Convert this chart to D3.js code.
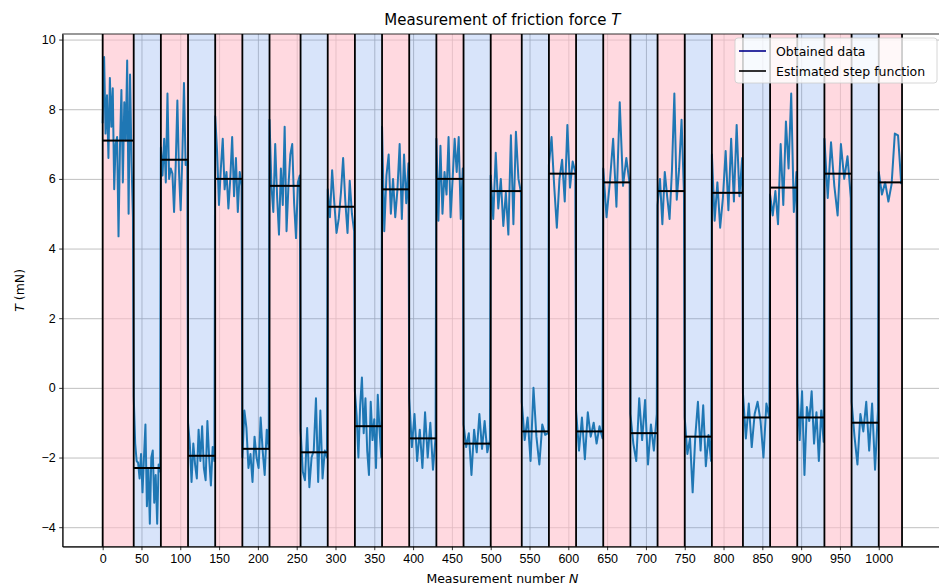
<!DOCTYPE html>
<html>
<head>
<meta charset="utf-8">
<script src="https://cdn.jsdelivr.net/npm/d3@7"></script>
<style>
  body { margin: 0; background: #fff; }
  svg { display: block; font-family: "DejaVu Sans", sans-serif; }
  .grid line { stroke: #b0b0b0; stroke-width: 0.8; }
  .grid path { display: none; }
  .axis text { font-size: 12.5px; fill: #000; }
  .axis path, .axis line { stroke: #000; stroke-width: 0.8; }
</style>
</head>
<body>
<script>
// segment boundaries (measurement number N)
var bounds = [0, 40, 75, 110, 145, 180, 215, 255, 290, 325, 360, 395, 430, 465, 500,
    540, 575, 610, 645, 680, 715, 750, 785, 825, 860, 895, 930, 965, 1000, 1030];

// estimated step levels, one per segment
var levels = [7.1, -2.3, 6.55, -1.95, 6.0, -1.75, 5.8, -1.85, 5.2, -1.1, 5.7, -1.45, 6.0, -1.6,
    5.65, -1.25, 6.15, -1.25, 5.9, -1.3, 5.65, -1.4, 5.6, -0.85, 5.75, -0.85, 6.15, -1.0, 5.9];

// obtained data, one list per segment
var samples = [
    [7.6, 9.5, 7.3, 8.4, 6.6, 8.9, 7.5, 8.6, 5.7, 7.0, 7.2, 4.35, 6.9, 8.55, 5.9, 8.2, 7.1, 9.4, 5.0, 9.0, 6.5, 4.9],
    [-0.25, -1.6, -2.1, -2.15, -2.6, -1.9, -3.0, -2.0, -1.05, -3.4, -2.3, -3.9, -2.0, -1.8, -3.3, -2.5, -3.9, -2.2, -2.4],
    [6.9, 6.1, 7.15, 5.9, 8.45, 6.0, 6.3, 6.15, 5.05, 6.4, 8.25, 6.2, 5.1, 6.6, 8.75, 6.4, 6.5],
    [-1.0, -1.6, -2.7, -1.6, -2.2, -2.6, -1.2, -2.1, -1.1, -2.3, -2.65, -0.95, -2.0, -2.8, -1.7, -2.1],
    [7.8, 6.8, 5.25, 6.3, 7.15, 5.7, 6.2, 5.15, 6.0, 7.2, 5.5, 6.6, 5.05, 6.2, 5.8],
    [-2.0, -0.65, -1.15, -2.3, -1.9, -2.7, -1.4, -2.0, -2.3, -0.85, -1.8, -2.5, -1.2, -1.75],
    [7.7, 5.8, 5.05, 7.0, 5.5, 4.4, 6.3, 5.25, 7.5, 4.5, 5.8, 6.7, 7.0, 5.3, 4.3, 5.9, 6.1],
    [-1.2, -2.4, -2.65, -1.15, -2.85, -2.0, -1.8, -0.3, -2.7, -0.65, -2.6, -1.8, -2.0],
    [5.7, 4.9, 6.25, 5.3, 4.45, 4.85, 5.6, 6.6, 5.35, 4.45, 5.95, 5.0, 4.5],
    [-0.1, -0.8, -2.0, -0.5, 0.3, -1.3, -0.3, -1.8, -2.5, -0.4, -1.5, -0.9, -2.3, -0.2, -1.2, -2.0],
    [7.5, 4.5, 6.1, 6.7, 5.0, 6.0, 4.9, 5.7, 7.0, 4.85, 6.7, 5.3, 6.45],
    [-0.3, -1.7, -0.75, -2.1, -1.2, -2.3, -0.7, -2.0, -1.0, -2.35, -1.4],
    [7.15, 4.8, 6.95, 5.0, 6.2, 5.55, 7.2, 4.9, 6.0, 7.15, 6.2, 7.2, 4.85, 6.3],
    [-1.05, -1.7, -1.3, -2.5, -1.2, -1.85, -0.75, -1.75, -0.95, -1.85, -1.5],
    [6.1, 4.85, 6.75, 5.15, 6.0, 4.65, 5.6, 4.4, 7.25, 4.7, 7.35, 6.0, 5.6],
    [-0.4, -1.5, -0.85, -2.1, 0.0, -1.4, -2.2, -1.05, -1.35, -1.3],
    [6.4, 7.2, 5.8, 4.6, 6.0, 6.55, 5.35, 7.55, 5.75, 6.5, 6.2],
    [-0.65, -1.8, -0.85, -2.05, -0.7, -1.4, -1.0, -1.6, -1.1, -1.45],
    [6.3, 4.9, 5.9, 7.15, 5.2, 8.2, 5.8, 6.6, 5.85],
    [-0.75, -1.6, -2.1, -0.3, -1.5, -0.35, -2.2, -1.05, -1.8, -0.75],
    [5.25, 6.0, 4.7, 6.2, 5.5, 4.85, 6.25, 8.45, 5.4, 6.3, 7.7, 5.6],
    [-0.85, -1.9, -1.45, -3.0, -1.4, -0.4, -1.8, -0.5, -2.25, -1.35, -2.1],
    [6.7, 4.8, 5.9, 4.6, 5.45, 6.8, 5.1, 7.15, 5.35, 7.55, 5.5, 6.6],
    [-0.15, -1.45, -0.45, -1.7, -0.75, -0.4, -0.95, -2.0, -0.45, -0.85],
    [5.55, 4.95, 5.65, 4.7, 7.0, 5.25, 7.65, 6.3, 8.45, 5.05, 6.2],
    [0.1, -1.5, -0.1, -2.5, -0.55, -0.95, -0.1, -1.6, -0.7, -2.1, -0.65, -1.55],
    [7.15, 5.45, 7.05, 5.8, 4.95, 7.0, 6.0, 6.65, 5.45],
    [-0.4, -1.4, -2.2, -0.75, -1.25, -0.4, -1.8, -0.45, -2.35, -0.65],
    [6.2, 5.55, 5.9, 5.35, 5.85, 7.3, 7.25, 5.85]
];

var xTicks = d3.range(0, 1001, 50);
var yTicks = [-4, -2, 0, 2, 4, 6, 8, 10];
var legendLabels = ["Obtained data", "Estimated step function"];

var width = 939;
var height = 586;
var margin = { top: 34, bottom: 39.3, left: 62.7, right: -3 };
var innerW = width - margin.left - margin.right;
var innerH = height - margin.top - margin.bottom;

var svg = d3.select('body')
    .append("svg")
    .attr("width", width)
    .attr("height", height);

var chart = svg.append("g")
    .attr("transform", "translate(" + margin.left + "," + margin.top + ")");

var xScale = d3.scaleLinear().domain([-51.5, 1081.5]).range([0, innerW]);
var yScale = d3.scaleLinear().domain([-4.56, 10.16]).range([innerH, 0]);

// gridlines
chart.append("g")
    .attr("class", "grid")
    .attr("transform", "translate(0," + innerH + ")")
    .call(d3.axisBottom(xScale).tickValues(xTicks).tickSize(-innerH).tickFormat(""));
chart.append("g")
    .attr("class", "grid")
    .call(d3.axisLeft(yScale).tickValues(yTicks).tickSize(-innerW).tickFormat(""));

// coloured spans
var segs = levels.map(function (v, i) {
    return { x0: bounds[i], x1: bounds[i + 1], level: v, vals: samples[i], i: i };
});

chart.selectAll("rect.span")
    .data(segs)
    .enter()
    .append("rect")
    .attr("class", "span")
    .attr("x", d => xScale(d.x0))
    .attr("width", d => xScale(d.x1) - xScale(d.x0))
    .attr("y", 0)
    .attr("height", innerH)
    .attr("fill", d => d.i % 2 == 0 ? "#ffc0cb" : "#6495ed")
    .attr("fill-opacity", d => d.i % 2 == 0 ? 0.6 : 0.25);

// obtained data as one continuous line
var points = [];
segs.forEach(function (s) {
    var n = s.vals.length;
    var step = (s.x1 - 1 - s.x0) / (n - 1);
    s.vals.forEach(function (v, k) {
        points.push([s.x0 + k * step, v]);
    });
});

var line = d3.line()
    .x(d => xScale(d[0]))
    .y(d => yScale(d[1]));

chart.append("path")
    .datum(points)
    .attr("fill", "none")
    .attr("stroke", "#1f77b4")
    .attr("stroke-width", 2)
    .attr("stroke-linejoin", "round")
    .attr("d", line);

// boundaries
chart.selectAll("line.bound")
    .data(bounds)
    .enter()
    .append("line")
    .attr("x1", d => xScale(d))
    .attr("x2", d => xScale(d))
    .attr("y1", 0)
    .attr("y2", innerH)
    .attr("stroke", "#000")
    .attr("stroke-width", 1.8);

// step function levels
chart.selectAll("line.level")
    .data(segs)
    .enter()
    .append("line")
    .attr("x1", d => xScale(d.x0))
    .attr("x2", d => xScale(d.x1))
    .attr("y1", d => yScale(d.level))
    .attr("y2", d => yScale(d.level))
    .attr("stroke", "#000")
    .attr("stroke-width", 2);

// axes
chart.append("g")
    .attr("class", "axis")
    .attr("transform", "translate(0," + innerH + ")")
    .call(d3.axisBottom(xScale).tickValues(xTicks).tickSize(3.5).tickPadding(3.5).tickSizeOuter(0)
        .tickFormat(d3.format("d")));
chart.append("g")
    .attr("class", "axis")
    .call(d3.axisLeft(yScale).tickValues(yTicks).tickSize(3.5).tickPadding(3.5).tickSizeOuter(0)
        .tickFormat(d => d < 0 ? "\u2212" + Math.abs(d) : d));

// frame
chart.append("rect")
    .attr("width", innerW)
    .attr("height", innerH)
    .attr("fill", "none")
    .attr("stroke", "#000")
    .attr("stroke-width", 0.8);

// title and labels
var title = svg.append("text")
    .attr("x", margin.left + innerW / 2)
    .attr("y", 25)
    .attr("text-anchor", "middle")
    .style("font-size", "15px");
title.append("tspan").text("Measurement of friction force ");
title.append("tspan").style("font-style", "italic").text("T");

var xl = svg.append("text")
    .attr("x", margin.left + innerW / 2)
    .attr("y", 583)
    .attr("text-anchor", "middle")
    .style("font-size", "12.5px");
xl.append("tspan").text("Measurement number ");
xl.append("tspan").style("font-style", "italic").text("N");

var yl = svg.append("text")
    .attr("transform", "translate(24," + (margin.top + innerH / 2) + ") rotate(-90)")
    .attr("text-anchor", "middle")
    .style("font-size", "12.5px");
yl.append("tspan").style("font-style", "italic").text("T");
yl.append("tspan").text(" (mN)");

// legend
var legend = svg.append("g").attr("transform", "translate(735,38)");
legend.append("rect")
    .attr("width", 202)
    .attr("height", 45)
    .attr("rx", 3)
    .attr("fill", "#fff")
    .attr("fill-opacity", 0.8)
    .attr("stroke", "#ccc")
    .attr("stroke-width", 0.8);
var legColors = ["#00008b", "#000"];
legendLabels.forEach(function (lab, i) {
    var yy = 13 + i * 20;
    legend.append("line")
        .attr("x1", 4).attr("x2", 31)
        .attr("y1", yy).attr("y2", yy)
        .attr("stroke", legColors[i])
        .attr("stroke-width", 1.6);
    legend.append("text")
        .attr("x", 41).attr("y", yy + 4.5)
        .style("font-size", "12.5px")
        .text(lab);
});
</script>
</body>
</html>
